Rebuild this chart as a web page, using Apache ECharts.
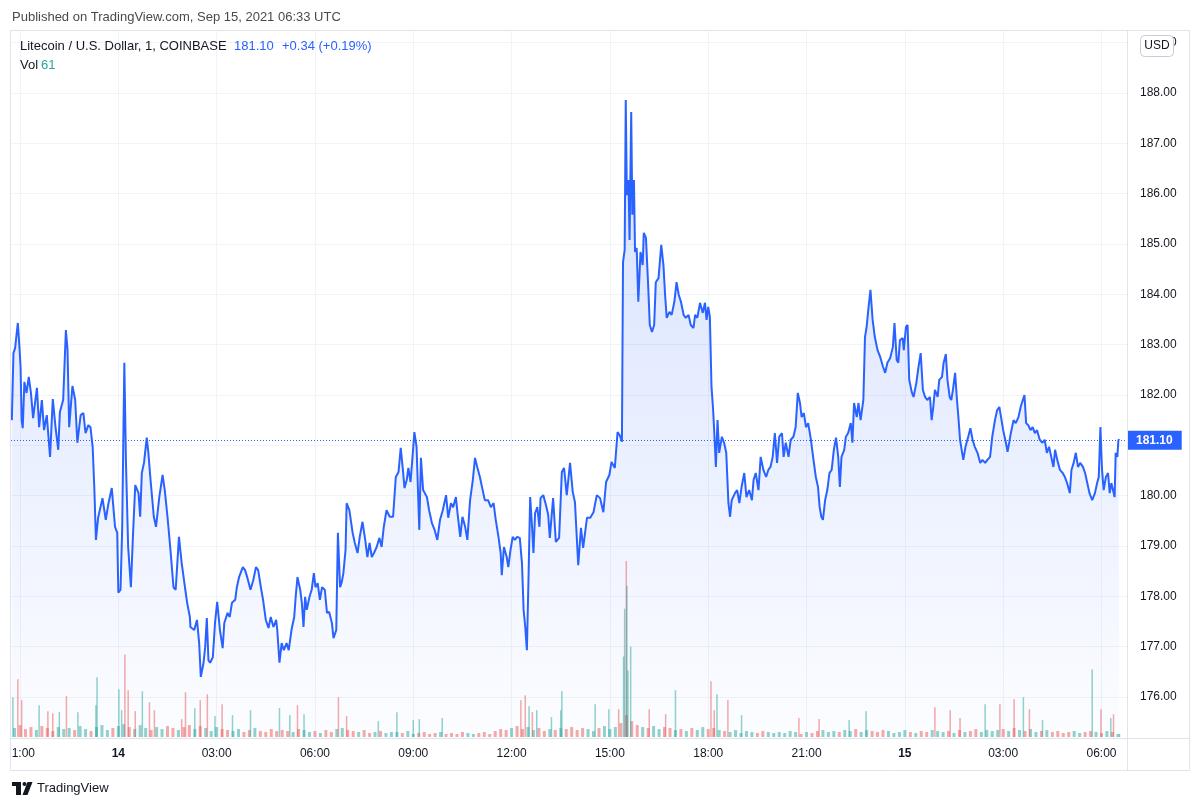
<!DOCTYPE html>
<html><head><meta charset="utf-8">
<script src="https://cdn.jsdelivr.net/npm/echarts@6/dist/echarts.min.js"></script>
<style>html,body{margin:0;padding:0;background:#fff;}#c{width:1200px;height:807px;}</style>
</head><body><div id="c"></div>
<script>
// Time is in minutes after 2021-09-13 21:00 UTC
const priceMinutes = [-15,-12,-9,-4,-1,1,3,5,8,12,16,20,24,31,35,40,44,49,55,60,65,70,73,79,84,87,90,96,101,105,111,116,120,125,129,133,136,139,143,151,157,162,168,174,178,180,184,187,191,194,198,203,207,211,217,220,223,227,232,235,239,245,249,255,261,265,270,275,281,285,291,296,302,306,311,
312,319,324,328,331,336,339,342,345,348,353,357,361,366,371,374,380,384,388,394,397,401,408,412,416,422,427,432,436,441,445,450,455,459,464,469,471,475,479,483,488,492,497,502,505,508,513,516,519,522,525,530,534,538,541,545,549,553,558,562,566,571,574,579,582,586,589,592,596,598,603,
609,613,618,622,627,632,636,640,644,648,653,658,662,666,671,677,683,688,693,697,701,704,708,711,715,720,722,726,731,734,738,745,749,754,759,764,769,774,780,784,789,793,798,801,806,810,815,819,824,829,833,837,842,847,851,857,862,867,871,876,880,882,886,891,894,898,902,906,910,915,919,922,925,928,931,934,937,940,943,947,951,
953,958,963,967,970,976,981,987,992,996,1001,1007,1012,1016,1022,1027,1031,1038,1044,1050,1056,1062,1068,1073,1079,1083,1089,1094,1098,1102,1104,1107,1109,1111,1114,1116,1119,1121,1124,1126,1129,1132,1136,1140,1142,1146,1150,1153,1157,1161,1164,1169,1174,1178,1181,1184,1189,1193,1198,1202,1206,1210,1215,1219,1224,1228,1233,1236,1240,1245,
1250,1254,1257,1260,1263,1266,1269,1272,1274,1277,1280,1285,1289,1293,1297,1300,1303,1309,1313,1317,1321,1326,1330,1335,1340,1343,1347,1352,1356,1361,1366,1370,1374,1378,1382,1386,1390,1395,1398,1402,1407,1411,1416,1420,1424,1428,1431,1435,1439,1443,1448,1452,1457,1461,1464,1467,1470,1474,1478,1482,1486,1490,1494,1498,1501,1504,1509,1512,1516,1521,1524,1527,1532,1535,1539,1544,1547,1550,1553,1557,1561,1565,1570,1575,1580,1584,1588,1593,1598,1601,1605,1608,1611,1616,1618,1622,1625,1628,1633,1636,1641,1645,
1649,1653,1657,1661,1666,1669,1672,1675,1680,1683,1688,1691,1695,1698,1702,1705,1708,1712,1715,1718,1721,1724,1727,1731,1736,1740,1744,1748,1753,1758,1762,1767,1771,1776,1780,1785,1789,1793,1797,1800,1805,1808,1811,1814,1819,1823,1828,1832,1836,1839,1842,1846,1850,1854,1858,1862,1867,1872,1876,1880,1884,1888,1892,1895,1899,1904,1909,1913,1917,1922,1925,1929,1933,1937,1941,1946,1950,1954,1958,1963,1968,1972,1975,1978,1981,1984,1988,1992,1995,1998,2001,2004,2006,2009,2011,2013];
const prices = [181.50,182.83,182.93,183.43,182.95,182.56,181.50,181.34,182.26,182.04,182.36,182.04,181.54,182.14,181.36,181.90,181.30,181.60,180.77,181.92,181.36,180.91,181.66,181.90,183.29,182.89,181.36,182.18,181.90,181.05,181.60,181.64,181.24,181.40,181.36,180.97,180.17,179.12,179.56,179.95,179.52,179.85,180.15,179.38,179.26,178.07,178.13,179.32,182.64,180.65,178.98,178.18,179.26,180.21,180.05,179.58,180.45,180.65,181.15,180.85,180.31,179.58,179.38,179.97,180.41,180.11,179.58,178.98,178.18,178.13,179.18,178.66,178.18,177.87,177.59,
177.39,177.33,177.53,177.07,176.40,176.68,176.99,177.57,176.73,176.68,176.79,177.47,177.89,177.33,176.97,177.47,177.67,177.59,177.87,177.93,178.18,178.38,178.58,178.52,178.38,178.13,178.32,178.58,178.52,178.18,177.93,177.53,177.37,177.59,177.39,177.53,177.33,176.68,177.07,176.93,177.07,176.93,177.33,177.59,178.03,178.38,178.13,177.87,177.39,177.99,177.73,177.99,178.13,178.46,178.18,178.26,177.93,178.18,178.13,177.67,177.69,177.47,177.17,177.33,179.26,178.18,178.28,178.46,178.92,179.85,179.71,
179.26,179.06,178.86,179.18,179.48,179.12,178.78,179.06,178.78,178.86,178.98,179.16,178.98,179.38,179.71,179.58,179.58,180.37,180.47,180.95,180.51,180.15,180.31,180.55,180.27,180.97,181.26,180.97,179.32,180.75,180.11,179.97,179.71,179.46,179.32,179.12,179.52,179.71,180.01,179.56,179.85,179.77,179.97,179.65,179.18,179.58,179.38,179.12,179.91,180.31,180.75,180.57,180.37,180.11,179.91,179.91,179.77,179.85,179.52,179.18,178.86,178.42,178.98,178.78,178.58,178.92,179.18,179.12,179.18,179.16,178.66,177.73,177.39,176.93,178.38,179.97,179.46,178.86,179.65,179.77,179.38,
179.95,180.01,179.81,179.62,179.16,179.95,179.08,179.16,180.47,180.55,180.01,180.65,180.07,179.87,178.62,179.36,178.96,179.56,179.56,179.67,180.01,179.95,179.67,180.27,180.41,180.67,180.55,181.26,181.20,181.07,184.64,184.88,187.86,185.97,186.27,185.08,187.62,185.58,186.27,184.84,184.92,183.85,184.84,184.58,185.22,185.12,184.19,183.39,183.25,183.39,184.24,184.32,184.98,184.58,183.99,183.53,183.65,183.59,183.85,184.24,183.99,183.85,183.59,183.53,183.59,183.39,183.33,183.59,183.53,183.83,
183.63,183.83,183.49,183.75,183.55,182.16,181.70,181.05,180.57,181.50,180.85,181.17,181.05,180.85,179.85,179.58,179.91,180.05,180.11,179.85,180.17,180.45,179.97,180.11,179.91,180.31,180.45,180.11,180.77,180.51,180.37,180.51,180.57,180.77,181.24,180.65,181.17,181.24,180.77,181.05,180.77,181.11,181.17,181.36,182.04,181.84,181.56,181.64,181.36,181.44,181.11,180.77,180.37,180.17,179.77,179.58,179.52,179.91,180.11,180.45,180.51,180.91,181.15,180.77,180.17,180.77,180.91,181.17,181.24,181.44,181.05,181.84,181.56,181.84,181.50,181.90,183.15,183.35,183.69,184.09,183.49,183.15,182.89,182.75,182.56,182.44,182.64,182.73,182.95,183.43,182.70,182.64,183.09,183.13,182.89,183.35,183.39,182.30,182.04,181.96,182.24,182.56,
182.83,182.10,181.96,181.90,181.96,181.50,181.76,182.10,181.96,182.30,182.36,182.64,182.81,182.30,181.96,181.90,182.10,182.44,181.96,181.56,181.11,180.91,180.71,180.97,181.17,181.34,181.11,180.97,180.85,180.65,180.71,180.65,180.71,180.77,181.17,181.50,181.70,181.76,181.50,181.30,181.05,180.87,181.05,181.24,181.50,181.44,181.56,181.76,181.90,182.00,181.44,181.40,181.30,181.36,181.24,181.30,181.11,181.05,181.11,180.85,180.97,180.77,180.57,180.91,180.71,180.51,180.45,180.37,180.25,180.05,180.51,180.65,180.85,180.57,180.65,180.57,180.45,180.25,180.05,179.91,180.05,180.25,180.37,181.36,180.51,180.11,180.37,180.45,180.05,180.25,180.11,179.97,180.85,180.77,181.11,181.10];

// Volume: background (every 10 min starting at -10) and notable spikes
const volBaseStart = -10, volBaseStep = 10;
const volBase = [180,240,160,200,140,220,180,120,200,160, 180,140,220,160,120,200,240,140,180,220,
260,200,160,240,180,140,200,160,220,180, 140,200,240,160,220,180,120,200,160,140,
120,160,100,140,180,120,100,160,120,140, 120,100,160,140,100,120,80,140,100,160,
180,140,120,100,140,80,100,120,80,100, 100,80,120,60,80,100,60,80,100,60,
80,60,100,80,60,80,100,60,120,160, 140,180,220,160,200,140,180,120,160,140,
180,160,200,140,180,160,120,180,220,160, 200,280,440,320,240,200,180,220,160,200,
180,140,160,120,180,140,200,160,180,140, 120,100,140,80,120,100,80,120,100,80,
100,80,120,100,60,100,80,120,140,100, 120,100,140,120,160,100,140,120,100,140,
120,80,100,140,100,80,120,100,140,120, 100,120,80,140,100,120,160,100,140,120,
140,160,120,180,140,120,160,100,120,140, 100,120,80,100,120,80,100,120,100,80,
120,100,60];
const volSpikeMinutes = [-13,-4,3,35,51,60,72,85,106,139,141,181,186,192,198,211,224,237,246,296,303,320,330,343,357,370,389,422,475,494,508,520,583,598,656,690,720,731,773,917,925,932,938,946,973,990,992,1053,1078,1096,1105,1107,1110,1111,1113,1118,1152,1182,1200,1265,1271,1276,1296,1321,1426,1463,1518,1549,1675,1703,1721,1767,1794,1820,1837,1848,1872,1963,1979,1997,2002,2013];
const volSpikes = [800,1160,740,640,520,480,500,820,500,640,1200,960,540,1660,940,520,920,700,540,360,900,580,740,860,420,660,440,540,580,440,640,460,800,420,320,500,340,360,380,740,840,620,500,540,400,540,920,660,560,560,1620,2580,3540,3040,1340,1820,560,460,940,1120,540,860,740,440,380,360,340,520,600,540,380,660,660,760,800,560,340,1360,560,380,460,61];

const timeTickMinutes = [0,180,360,540,720,900,1080,1260,1440,1620,1800,1980];
const timeTickLabels = ['21:00','14','03:00','06:00','09:00','12:00','15:00','18:00','21:00','15','03:00','06:00'];
const dayTicks = ['14','15'];
const priceTicks = [176,177,178,179,180,181,182,183,184,185,186,187,188,189];
const lastPrice = 181.10;

const UP = 'rgba(38,166,154,0.5)', DOWN = 'rgba(239,83,80,0.5)';
function dirUp(t){
  let i = 0;
  while (i + 1 < priceMinutes.length && priceMinutes[i+1] <= t) i++;
  const j = Math.min(i + 1, prices.length - 1);
  return prices[j] >= prices[i];
}
const lineData = priceMinutes.map((m,i)=>[m, prices[i]]);
const baseData = volBase.map((v,i)=>{const m = volBaseStart + i*volBaseStep; return {value:[m,v], itemStyle:{color: dirUp(m)?UP:DOWN}};});
const spikeData = volSpikes.map((v,i)=>{const m = volSpikeMinutes[i]; return {value:[m,v], itemStyle:{color: dirUp(m)?UP:DOWN}};});

const X_MIN = -16.5, X_MAX = 2026.7;
const FONT = 'Liberation Sans, Arial, sans-serif';
const GRID_C = '#f0f3fa', FRAME_C = '#e0e3eb';

const chart = echarts.init(document.getElementById('c'), null, {renderer:'canvas'});
chart.setOption({
  animation:false,
  backgroundColor:'#ffffff',
  textStyle:{fontFamily:FONT},
  grid:[
    {left:11, right:73, top:31, bottom:69, containLabel:false},
    {left:11, right:73, top:561, bottom:70, containLabel:false}
  ],
  xAxis:[
    {type:'value', gridIndex:0, min:X_MIN, max:X_MAX,
     axisLine:{show:false}, axisTick:{show:false, customValues:timeTickMinutes},
     splitLine:{show:true, lineStyle:{color:GRID_C, width:1}},
     axisLabel:{customValues:timeTickMinutes, margin:10, color:'#131722', fontSize:12, fontFamily:FONT,
       formatter:function(v){const k = timeTickMinutes.indexOf(v); const s = k>=0?timeTickLabels[k]:''; return dayTicks.indexOf(s)>=0?'{d|'+s+'}':s;},
       rich:{d:{fontWeight:'bold', fontSize:12, color:'#131722', fontFamily:FONT}}}},
    {type:'value', gridIndex:1, min:X_MIN, max:X_MAX, show:false, splitLine:{show:false}},
    {type:'value', gridIndex:1, min:X_MIN, max:X_MAX, show:false, splitLine:{show:false}}
  ],
  yAxis:[
    {type:'value', gridIndex:0, position:'right', min:175.185, max:189.23,
     axisLine:{show:false}, axisTick:{show:false, customValues:priceTicks},
     splitLine:{show:true, lineStyle:{color:GRID_C, width:1}},
     axisLabel:{customValues:priceTicks, margin:13, color:'#131722', fontSize:12, fontFamily:FONT,
       formatter:function(v){return v.toFixed(2);}}},
    {type:'value', gridIndex:1, min:0, max:'dataMax', show:false, splitLine:{show:false}}
  ],
  series:[
    {type:'line', xAxisIndex:0, yAxisIndex:0, data:lineData, showSymbol:false, symbol:'none',
     lineStyle:{color:'#2962ff', width:2}, z:3,
     areaStyle:{color:new echarts.graphic.LinearGradient(0,0,0,1,[{offset:0,color:'rgba(41,98,255,0.28)'},{offset:1,color:'rgba(41,98,255,0.02)'}]), origin:'start'},
     markLine:{silent:true, symbol:['none','none'], animation:false,
       lineStyle:{color:'#2962ff', type:[1,2], width:1},
       label:{show:true, position:'end', distance:0, formatter:lastPrice.toFixed(2), backgroundColor:'#2962ff', color:'#ffffff', fontWeight:'bold', fontSize:12, fontFamily:FONT, padding:[4,9,3,9]},
       data:[{yAxis:lastPrice}]}},
    {type:'bar', xAxisIndex:1, yAxisIndex:1, data:baseData, barWidth:3, z:2},
    {type:'bar', xAxisIndex:2, yAxisIndex:1, data:spikeData, barWidth:1.5, z:2}
  ],
  graphic:[
    {type:'rect', z:100, shape:{x:0,y:739,width:10,height:30}, style:{fill:'#ffffff'}},
    {type:'rect', z:101, shape:{x:10.5,y:30.5,width:1179,height:740}, style:{fill:'none', stroke:FRAME_C, lineWidth:1}},
    {type:'line', z:101, shape:{x1:10,y1:738.5,x2:1190,y2:738.5}, style:{stroke:FRAME_C, lineWidth:1}},
    {type:'line', z:101, shape:{x1:1127.5,y1:30,x2:1127.5,y2:771}, style:{stroke:FRAME_C, lineWidth:1}},
    {type:'text', z:102, x:12, y:17, style:{text:'Published on TradingView.com, Sep 15, 2021 06:33 UTC', fill:'#4a4a4a', fontSize:13, fontFamily:FONT, verticalAlign:'middle'}},
    {type:'text', z:102, x:20, y:46, style:{text:'Litecoin / U.S. Dollar, 1, COINBASE', fill:'#131722', fontSize:13, fontFamily:FONT, verticalAlign:'middle'}},
    {type:'text', z:102, x:234, y:46, style:{text:'181.10', fill:'#2962ff', fontSize:13, fontFamily:FONT, verticalAlign:'middle'}},
    {type:'text', z:102, x:282, y:46, style:{text:'+0.34 (+0.19%)', fill:'#2962ff', fontSize:13, fontFamily:FONT, verticalAlign:'middle'}},
    {type:'text', z:102, x:20, y:65, style:{text:'Vol', fill:'#131722', fontSize:13, fontFamily:FONT, verticalAlign:'middle'}},
    {type:'text', z:102, x:41, y:65, style:{text:'61', fill:'#26a69a', fontSize:13, fontFamily:FONT, verticalAlign:'middle'}},
    {type:'rect', z:103, shape:{x:1140.5,y:35.5,width:33,height:21,r:4}, style:{fill:'#ffffff', stroke:'#c9ccd6', lineWidth:1}},
    {type:'text', z:104, x:1157, y:46, style:{text:'USD', fill:'#131722', fontSize:12, fontFamily:FONT, align:'center', verticalAlign:'middle'}},
    {type:'rect', z:102, shape:{x:12,y:782,width:9,height:4}, style:{fill:'#131722'}},
    {type:'rect', z:102, shape:{x:16,y:782,width:5,height:13}, style:{fill:'#131722'}},
    {type:'circle', z:102, shape:{cx:24.5,cy:784,r:2}, style:{fill:'#131722'}},
    {type:'polygon', z:102, shape:{points:[[27.5,782],[32.5,782],[27.5,795],[22.5,795]]}, style:{fill:'#131722'}},
    {type:'text', z:102, x:37, y:788, style:{text:'TradingView', fill:'#131722', fontSize:13, fontFamily:FONT, verticalAlign:'middle'}}
  ]
});
</script></body></html>
